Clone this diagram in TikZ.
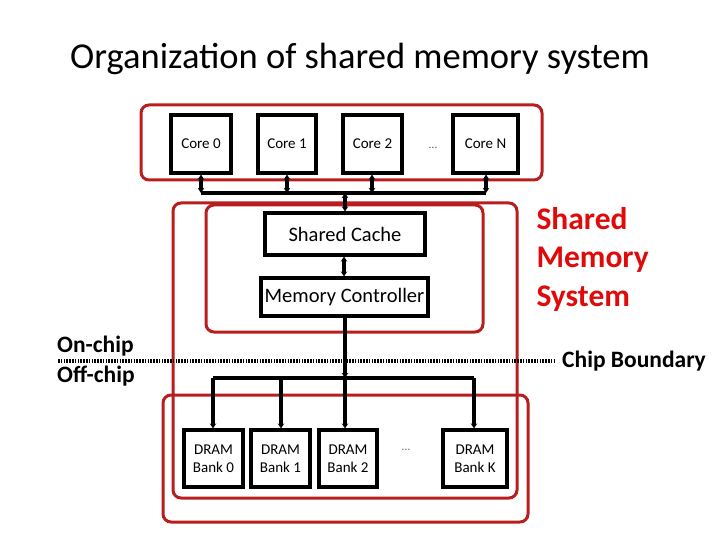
\documentclass[tikz,border=0pt]{standalone}
\usepackage{fontspec}
\setmainfont{Carlito}
\usetikzlibrary{arrows.meta}
\definecolor{boxred}{RGB}{185,30,30}
\definecolor{txtred}{RGB}{225,10,10}
\tikzset{
  blk/.style={draw=black, line width=3.2pt, fill=white, inner sep=0pt, font=\fontsize{15}{18}\selectfont, align=center},
  redbox/.style={draw=boxred, line width=3pt, rounded corners=8pt},
  wire/.style={line width=3.4pt},
  dbl/.style={line width=3.4pt, {Stealth[length=5pt,width=6.5pt]}-{Stealth[length=5pt,width=6.5pt]}},
  sgl/.style={line width=3.4pt, -{Stealth[length=5pt,width=6.5pt]}},
  lbl/.style={font=\fontsize{23.5}{28}\selectfont\bfseries, inner sep=0pt}
}
\begin{document}
\begin{tikzpicture}[x=1pt,y=-1pt]
\useasboundingbox (0,0) rectangle (720,540);
% title
\node[font=\fontsize{36.5}{42}\selectfont] (title) at (360,59) {Organization of shared memory system};
% red boxes
\draw[redbox] (141,105) rectangle (542,180);
\draw[redbox] (173,203) rectangle (517,498);
\draw[redbox] (206,205) rectangle (483,332);
\draw[redbox] (163,395) rectangle (528,522);
% cores
\node[blk, minimum width=60pt, minimum height=58pt] (c0) at (201,144) {Core 0};
\node[blk, minimum width=58pt, minimum height=58pt] (c1) at (287,144) {Core 1};
\node[blk, minimum width=59pt, minimum height=58pt] (c2) at (372.5,144) {Core 2};
\node[blk, minimum width=65pt, minimum height=58pt] (cn) at (485.5,144) {Core N};
\node[font=\fontsize{12}{14}\selectfont, text=black!60] (cdots) at (433,148) {\dots};
% caches
\node[blk, font=\fontsize{20.5}{24}\selectfont, minimum width=160pt, minimum height=42pt] (sc) at (345,234) {Shared Cache};
\node[blk, font=\fontsize{20.5}{24}\selectfont, minimum width=167pt, minimum height=38pt] (mc) at (344.5,297) {Memory Controller};
% DRAM
\node[blk, minimum width=59pt, minimum height=57pt] (d0) at (213.5,458.5) {DRAM\\Bank 0};
\node[blk, minimum width=59pt, minimum height=57pt] (d1) at (280.5,458.5) {DRAM\\Bank 1};
\node[blk, minimum width=58pt, minimum height=57pt] (d2) at (348,458.5) {DRAM\\Bank 2};
\node[blk, minimum width=64pt, minimum height=57pt] (dk) at (475,458.5) {DRAM\\Bank K};
\node[font=\fontsize{12}{14}\selectfont, text=black!60] (ddots) at (406,450) {\dots};
% core bus
\coordinate (b0) at (201,193);
\coordinate (b1) at (287,193);
\coordinate (b2) at (372,193);
\coordinate (bn) at (486,193);
\coordinate (bc) at (345,193);
\draw[wire] (b0) -- (bn);
\draw[dbl] (b0) -- (b0 |- c0.south);
\draw[dbl] (b1) -- (b1 |- c1.south);
\draw[dbl] (b2) -- (b2 |- c2.south);
\draw[dbl] (bn) -- (bn |- cn.south);
\draw[dbl] (bc) -- (bc |- sc.north);
\draw[dbl] (sc.south -| 344,0) -- (mc.north -| 344,0);
% memory bus
\coordinate (m0) at (213,378);
\coordinate (m1) at (281,378);
\coordinate (m2) at (345,378);
\coordinate (mk) at (474,378);
\draw[wire] (m0) -- (mk);
\draw[sgl] (mc.south -| m2) -- (m2);
\draw[sgl] (m0) -- (m0 |- d0.north);
\draw[sgl] (m1) -- (m1 |- d1.north);
\draw[sgl] (m2) -- (m2 |- d2.north);
\draw[sgl] (mk) -- (mk |- dk.north);
% chip boundary
\coordinate (cbl) at (58,361);
\coordinate (cbr) at (555,361);
\draw[line width=3.4pt, dash pattern=on 1.6pt off 1.2pt] (cbl) -- (cbr);
\node[lbl, anchor=west] (cb) at (562,361) {Chip Boundary};
\node[lbl, anchor=west] (on) at (57,346) {On-chip};
\node[lbl, anchor=west] (off) at (57,376) {Off-chip};
% shared memory system label
\node[font=\fontsize{31.5}{38.5}\selectfont\bfseries, text=txtred, align=left, anchor=west] (sms) at (533,259) {Shared\\Memory\\System};
\end{tikzpicture}
\end{document}
